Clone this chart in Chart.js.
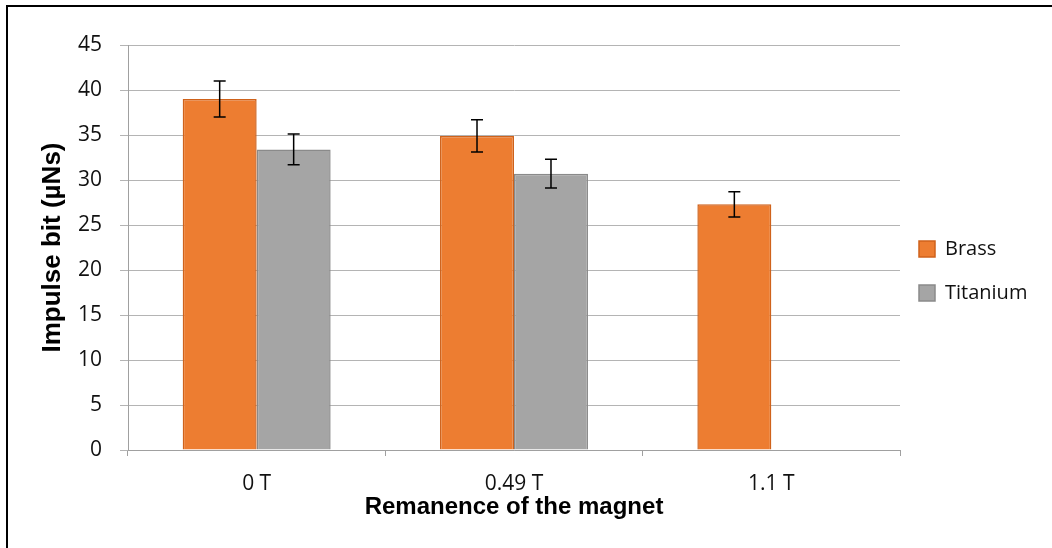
<!DOCTYPE html>
<html>
<head>
<meta charset="utf-8">
<script src="https://cdn.jsdelivr.net/npm/chart.js@4.4.1/dist/chart.umd.min.js"></script>
<style>
  html, body { margin: 0; padding: 0; background: #ffffff; }
  #wrap { position: relative; width: 1052px; height: 548px; overflow: hidden; background: #ffffff; }
  #frame { position: absolute; left: 6px; top: 5px; width: 1100px; height: 600px;
           border-left: 2px solid #000; border-top: 2px solid #000; pointer-events: none; }
  canvas { position: absolute; left: 0; top: 0; }
</style>
</head>
<body>
<div id="wrap">
  <canvas id="chart" width="1052" height="548"></canvas>
  <div id="frame"></div>
</div>
<script>
// Impulse bit per magnet remanence, with standard deviation
const categories = ['0 T', '0.49 T', '1.1 T'];
const brass = [39.0, 34.9, 27.3];
const brassErr = [2.0, 1.8, 1.4];
const titanium = [33.4, 30.7, null];
const titaniumErr = [1.7, 1.6, null];
const yTicks = [0, 5, 10, 15, 20, 25, 30, 35, 40, 45];

const tickFont = { family: "'Open Sans', sans-serif", size: 21 };
const xTitleFont = { family: "'Liberation Sans', Arial, sans-serif", size: 24, weight: 'bold' };
const yTitleFont = { family: "'Liberation Sans', Arial, sans-serif", size: 26, weight: 'bold' };

// Vertical error bars with caps on top of each bar
const errorBars = {
  id: 'errorBars',
  afterDatasetsDraw(chart) {
    const { ctx } = chart;
    const y = chart.scales.y;
    chart.data.datasets.forEach((ds, i) => {
      const meta = chart.getDatasetMeta(i);
      meta.data.forEach((bar, j) => {
        const v = ds.data[j];
        const e = ds.errors ? ds.errors[j] : null;
        if (v == null || e == null) return;
        const top = y.getPixelForValue(v + e);
        const bot = y.getPixelForValue(v - e);
        const x = bar.x;
        const cap = 6;
        ctx.save();
        ctx.strokeStyle = '#000000';
        ctx.lineWidth = 1.5;
        ctx.beginPath();
        ctx.moveTo(x, top); ctx.lineTo(x, bot);
        ctx.moveTo(x - cap, top); ctx.lineTo(x + cap, top);
        ctx.moveTo(x - cap, bot); ctx.lineTo(x + cap, bot);
        ctx.stroke();
        ctx.restore();
      });
    });
  }
};

new Chart(document.getElementById('chart'), {
  type: 'bar',
  data: {
    labels: categories,
    datasets: [
      {
        label: 'Brass',
        data: brass,
        errors: brassErr,
        backgroundColor: '#ED7D31',
        borderColor: '#CF621B',
        borderWidth: 1.5,
        categoryPercentage: 0.575,
        barPercentage: 1.0
      },
      {
        label: 'Titanium',
        data: titanium,
        errors: titaniumErr,
        backgroundColor: '#A5A5A5',
        borderColor: '#8A8A8A',
        borderWidth: 1.5,
        categoryPercentage: 0.575,
        barPercentage: 1.0
      }
    ]
  },
  options: {
    responsive: false,
    animation: false,
    devicePixelRatio: 1,
    layout: { padding: { left: 0, top: 45, right: 17, bottom: 0 } },
    plugins: {
      tooltip: { enabled: false },
      legend: {
        position: 'right',
        fullSize: false,
        maxWidth: 135,
        title: { display: true, text: '', font: { size: 20, lineHeight: 1.2 }, padding: 14 },
        labels: {
          boxWidth: 16,
          boxHeight: 16,
          padding: 19,
          color: '#111111',
          font: { family: "'Open Sans', sans-serif", size: 20, lineHeight: 1.25 },
          generateLabels(chart) {
            const items = Chart.defaults.plugins.legend.labels.generateLabels(chart);
            return items.map(it => Object.assign(it, { text: [it.text], lineWidth: 1.5 }));
          }
        }
      }
    },
    scales: {
      x: {
        grid: { display: true, drawOnChartArea: false, drawTicks: true, tickLength: 6, color: '#a0a0a0', offset: true },
        border: { display: true, color: '#a0a0a0', width: 1 },
        ticks: { color: '#111111', font: tickFont, padding: 15.4 },
        title: { display: true, text: 'Remanence of the magnet', color: '#000000', font: xTitleFont, padding: { top: 0, bottom: 26 } },
        afterFit(scale) { scale.height = 98; }
      },
      y: {
        min: 0,
        max: 45,
        afterBuildTicks(scale) { scale.ticks = yTicks.map(v => ({ value: v })); },
        grid: { color: '#b4b4b4', lineWidth: 1, drawTicks: true, tickLength: 8 },
        border: { display: true, color: '#a0a0a0', width: 1 },
        ticks: { color: '#111111', font: tickFont, padding: 18 },
        title: { display: true, text: 'Impulse bit (µNs)', color: '#000000', font: yTitleFont, padding: { top: 37.4, bottom: 0 } },
        afterFit(scale) { scale.width = 128; }
      }
    }
  },
  plugins: [errorBars]
});
</script>
</body>
</html>
